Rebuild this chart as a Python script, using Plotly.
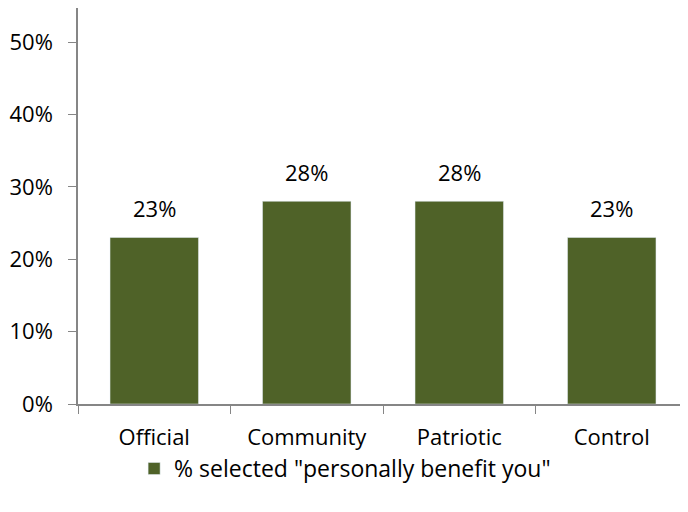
import plotly.graph_objects as go

CATEGORIES = ["Official", "Community", "Patriotic", "Control"]
VALUES = [0.23, 0.28, 0.28, 0.23]
SERIES_NAME = '% selected "personally benefit you"'

BAR_COLOUR = "#4F6228"
AXIS_COLOUR = "#868686"
FONT = "Open Sans, Noto Sans, sans-serif"
SIZE = 22

fig = go.Figure(go.Bar(
    x=CATEGORIES,
    y=VALUES,
    name=SERIES_NAME,
    marker_color=BAR_COLOUR,
    width=0.58,
    showlegend=True,
))

# value labels sit a little above each bar
for cat, val in zip(CATEGORIES, VALUES):
    fig.add_annotation(
        x=cat, y=val, text=f"{val:.0%}",
        showarrow=False, yanchor="bottom", yshift=12,
        font=dict(size=SIZE, color="#000000"),
    )

# page body adds 8px on the top/left, so the figure is a bit smaller
fig.update_layout(
    width=680,
    height=504,
    margin=dict(l=70, r=0, t=0, b=108),
    paper_bgcolor="white",
    plot_bgcolor="white",
    font=dict(family=FONT, size=SIZE, color="#000000"),
    showlegend=True,
    legend=dict(
        orientation="h",
        x=0.092, xanchor="left",
        y=-0.163, yanchor="middle",
        font=dict(size=23),
        itemwidth=30,
        bgcolor="rgba(0,0,0,0)",
    ),
    xaxis=dict(
        showline=True,
        linecolor=AXIS_COLOUR,
        linewidth=1.5,
        ticks="outside",
        tickson="boundaries",
        ticklen=8,
        tickcolor=AXIS_COLOUR,
        showgrid=False,
        automargin=False,
        ticklabelstandoff=13,
    ),
    yaxis=dict(
        range=[0, 0.547],
        tickvals=[0, 0.1, 0.2, 0.3, 0.4, 0.5],
        tickformat=".0%",
        showline=True,
        linecolor=AXIS_COLOUR,
        linewidth=1.5,
        ticks="outside",
        ticklen=8,
        tickcolor=AXIS_COLOUR,
        showgrid=False,
        zeroline=False,
        automargin=False,
        ticklabelstandoff=11,
    ),
    bargap=0.42,
)

fig.write_html("out.html")
